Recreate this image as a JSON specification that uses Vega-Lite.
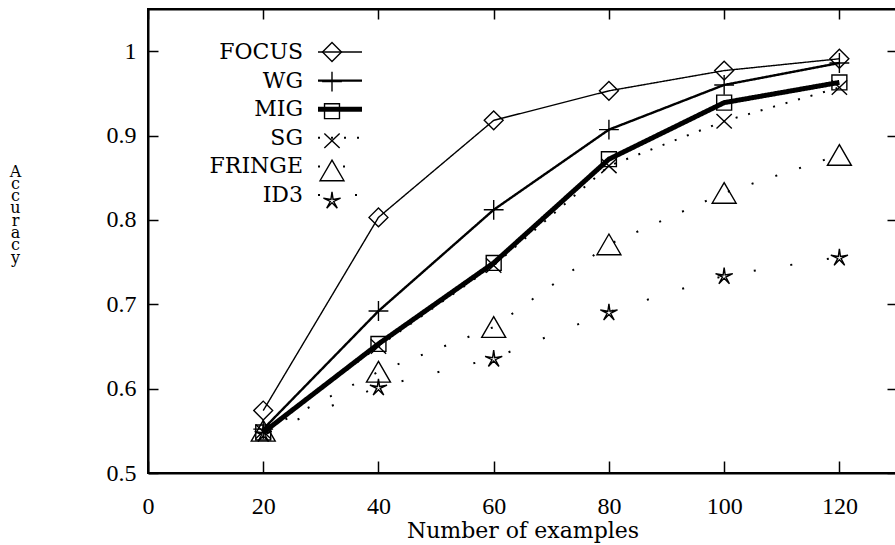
{
  "$schema": "https://vega.github.io/schema/vega-lite/v6.json",
  "width": 749,
  "height": 464,
  "autosize": "none",
  "padding": {"left": 148, "top": 9, "right": 0, "bottom": 72},
  "background": "white",
  "config": {
    "view": {"stroke": "black", "strokeWidth": 2},
    "axis": {
      "grid": false,
      "domainColor": "black",
      "domainWidth": 2,
      "tickColor": "black",
      "tickWidth": 1.5,
      "labelColor": "black",
      "titleColor": "black",
      "labelFont": "Liberation Serif",
      "titleFont": "DejaVu Serif",
      "labelFontSize": 24,
      "titleFontWeight": "normal"
    }
  },
  "data": {
    "values": [
      {"series": "FOCUS", "examples": 20, "accuracy": 0.574},
      {"series": "FOCUS", "examples": 40, "accuracy": 0.803},
      {"series": "FOCUS", "examples": 60, "accuracy": 0.918},
      {"series": "FOCUS", "examples": 80, "accuracy": 0.953},
      {"series": "FOCUS", "examples": 100, "accuracy": 0.977},
      {"series": "FOCUS", "examples": 120, "accuracy": 0.991},
      {"series": "WG", "examples": 20, "accuracy": 0.552},
      {"series": "WG", "examples": 40, "accuracy": 0.692},
      {"series": "WG", "examples": 60, "accuracy": 0.812},
      {"series": "WG", "examples": 80, "accuracy": 0.907},
      {"series": "WG", "examples": 100, "accuracy": 0.960},
      {"series": "WG", "examples": 120, "accuracy": 0.986},
      {"series": "MIG", "examples": 20, "accuracy": 0.548},
      {"series": "MIG", "examples": 40, "accuracy": 0.653},
      {"series": "MIG", "examples": 60, "accuracy": 0.749},
      {"series": "MIG", "examples": 80, "accuracy": 0.872},
      {"series": "MIG", "examples": 100, "accuracy": 0.939},
      {"series": "MIG", "examples": 120, "accuracy": 0.963},
      {"series": "SG", "examples": 20, "accuracy": 0.549},
      {"series": "SG", "examples": 40, "accuracy": 0.650},
      {"series": "SG", "examples": 60, "accuracy": 0.746},
      {"series": "SG", "examples": 80, "accuracy": 0.864},
      {"series": "SG", "examples": 100, "accuracy": 0.917},
      {"series": "SG", "examples": 120, "accuracy": 0.957},
      {"series": "FRINGE", "examples": 20, "accuracy": 0.550},
      {"series": "FRINGE", "examples": 40, "accuracy": 0.620},
      {"series": "FRINGE", "examples": 60, "accuracy": 0.673},
      {"series": "FRINGE", "examples": 80, "accuracy": 0.771},
      {"series": "FRINGE", "examples": 100, "accuracy": 0.832},
      {"series": "FRINGE", "examples": 120, "accuracy": 0.877},
      {"series": "ID3", "examples": 20, "accuracy": 0.547},
      {"series": "ID3", "examples": 40, "accuracy": 0.602},
      {"series": "ID3", "examples": 60, "accuracy": 0.636},
      {"series": "ID3", "examples": 80, "accuracy": 0.691},
      {"series": "ID3", "examples": 100, "accuracy": 0.734},
      {"series": "ID3", "examples": 120, "accuracy": 0.756}
    ]
  },
  "layer": [
    {
      "mark": {"type": "line", "color": "black"},
      "encoding": {
        "x": {
          "field": "examples", "type": "quantitative",
          "scale": {"domain": [0, 130], "nice": false},
          "axis": {
            "orient": "bottom",
            "values": [0, 20, 40, 60, 80, 100, 120],
            "tickSize": -12,
            "labelPadding": 33,
            "labelFlush": false,
            "title": "Number of examples",
            "titleFontSize": 22,
            "titleBaseline": "top",
            "titleY": 47
          }
        },
        "y": {
          "field": "accuracy", "type": "quantitative",
          "scale": {"domain": [0.5, 1.05], "nice": false, "zero": false},
          "axis": {
            "orient": "left",
            "values": [0.5, 0.6, 0.7, 0.8, 0.9, 1],
            "format": ".1~f",
            "tickSize": -10,
            "labelPadding": 22,
            "title": ["A", "c", "c", "u", "r", "a", "c", "y"],
            "titleAngle": 0,
            "titleAlign": "center",
            "titleBaseline": "alphabetic",
            "titleX": -133,
            "titleY": 167,
            "titleLineHeight": 12.3,
            "titleFontSize": 16
          }
        },
        "strokeDash": {
          "field": "series", "type": "nominal",
          "scale": {
            "domain": ["FOCUS", "WG", "MIG", "SG", "FRINGE", "ID3"],
            "range": [[1, 0], [1, 0], [1, 0], [2, 11], [2, 23], [2, 35]]
          },
          "legend": {
            "orient": "none",
            "legendX": 181,
            "legendY": 32,
            "title": null,
            "padding": 0,
            "symbolType": "M-3,0L3,0",
            "symbolSize": 215,
            "symbolStrokeColor": "black",
            "labelAlign": "right",
            "labelOffset": -48,
            "labelFont": "DejaVu Serif",
            "labelFontSize": 22,
            "labelColor": "black",
            "rowPadding": 6.6,
            "encode": {
              "symbols": {
                "update": {
                  "strokeWidth": {"signal": "(datum.value === 'MIG' ? 5 : datum.value === 'WG' ? 2.4 : datum.value === 'FOCUS' ? 1.4 : 2)"}
                }
              }
            }
          }
        },
        "strokeWidth": {
          "condition": [
            {"test": "datum.series === 'FOCUS'", "value": 1.4},
            {"test": "datum.series === 'WG'", "value": 2.4},
            {"test": "datum.series === 'MIG'", "value": 5}
          ],
          "value": 2
        }
      }
    },
    {
      "mark": {"type": "point", "filled": false, "color": "black", "size": 324, "strokeWidth": 1.4, "opacity": 1},
      "encoding": {
        "x": {
          "field": "examples", "type": "quantitative",
          "axis": {
            "orient": "top",
            "values": [0, 20, 40, 60, 80, 100, 120],
            "tickSize": -10,
            "labels": false,
            "title": null
          }
        },
        "y": {
          "field": "accuracy", "type": "quantitative",
          "axis": {
            "orient": "right",
            "values": [0.5, 0.6, 0.7, 0.8, 0.9, 1],
            "tickSize": -10,
            "labels": false,
            "title": null
          }
        },
        "shape": {
          "field": "series", "type": "nominal",
          "scale": {
            "domain": ["FOCUS", "WG", "MIG", "SG", "FRINGE", "ID3"],
            "range": [
              "M0,-1.05L1.05,0L0,1.05L-1.05,0Z",
              "M-1.1,0L1.1,0M0,-1.1L0,1.1",
              "M-0.83,-0.83L0.83,-0.83L0.83,0.83L-0.83,0.83Z",
              "M-0.85,-0.8L0.85,0.8M-0.85,0.8L0.85,-0.8",
              "M0,-1.15L1.33,1.15L-1.33,1.15Z",
              "M0,-0.9L0.118,-0.062L0.951,-0.209L0.19,0.162L0.588,0.909L0,0.3L-0.588,0.909L-0.19,0.162L-0.951,-0.209L-0.118,-0.062Z"
            ]
          },
          "legend": {
            "orient": "none",
            "legendX": 170.5,
            "legendY": 29.5,
            "title": null,
            "padding": 0,
            "symbolSize": 324,
            "symbolStrokeColor": "black",
            "symbolStrokeWidth": 1.4,
            "symbolFillColor": "transparent",
            "labelOpacity": 0,
            "labelFont": "DejaVu Serif",
            "labelFontSize": 27,
            "rowPadding": 1.6
          }
        }
      }
    }
  ],
  "resolve": {
    "legend": {"shape": "independent"},
    "axis": {"x": "independent", "y": "independent"}
  }
}
